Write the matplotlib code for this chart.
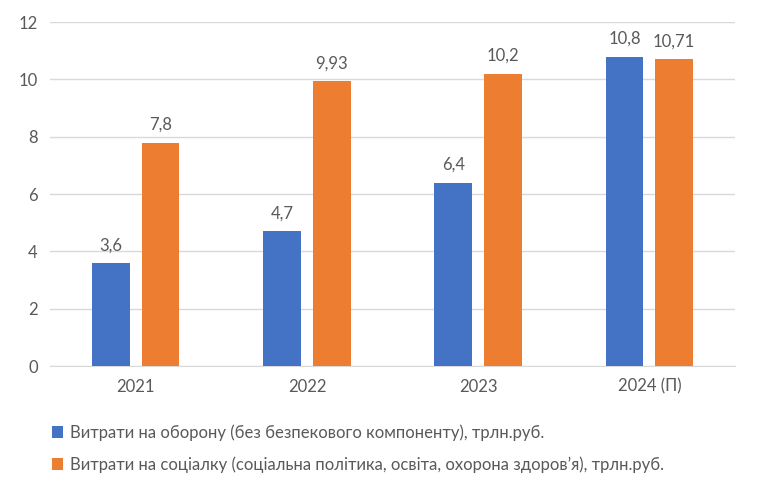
import matplotlib.pyplot as plt
import numpy as np

years = ["2021", "2022", "2023", "2024 (П)"]
defense = [3.6, 4.7, 6.4, 10.8]
social = [7.8, 9.93, 10.2, 10.71]
defense_labels = ["3,6", "4,7", "6,4", "10,8"]
social_labels = ["7,8", "9,93", "10,2", "10,71"]
legend_labels = [
    "Витрати на оборону (без безпекового компоненту), трлн.руб.",
    "Витрати на соціалку (соціальна політика, освіта, охорона здоров’я), трлн.руб.",
]

plt.rcParams['font.family'] = ['Lato', 'DejaVu Sans']
text_color = "#595959"
blue = "#4472C4"
orange = "#ED7D31"

fig = plt.figure(figsize=(7.6, 4.92), dpi=100)
ax = fig.add_axes([0.066, 0.256, 0.901, 0.699])

x = np.arange(len(years))
w = 0.22
off = 0.145
b1 = ax.bar(x - off, defense, w, color=blue, label=legend_labels[0], zorder=3)
b2 = ax.bar(x + off, social, w, color=orange, label=legend_labels[1], zorder=3)

for bars, labels in ((b1, defense_labels), (b2, social_labels)):
    for rect, lab in zip(bars, labels):
        ax.annotate(lab, (rect.get_x() + rect.get_width() / 2, rect.get_height()),
                    xytext=(0, 7), textcoords="offset points", ha="center", va="bottom",
                    fontsize=12, color=text_color)

ax.set_xlim(-0.5, 3.5)
ax.set_ylim(0, 12)
ax.set_yticks(range(0, 13, 2))
ax.set_xticks(x)
ax.set_xticklabels(years)
ax.tick_params(axis="both", length=0, labelsize=12, colors=text_color)
ax.tick_params(axis="x", pad=9)
ax.tick_params(axis="y", pad=9)
ax.grid(axis="y", color="#D9D9D9", linewidth=1, zorder=0)
for s in ("top", "right", "left"):
    ax.spines[s].set_visible(False)
ax.spines["bottom"].set_color("#D9D9D9")

fig.legend(loc="upper left", bbox_to_anchor=(0.068, 0.137), frameon=False, fontsize=12,
           labelcolor=text_color, handlelength=0.7, handleheight=0.7, handletextpad=0.4,
           labelspacing=0.9, borderaxespad=0, borderpad=0)

fig.savefig("out.png", dpi=100)
